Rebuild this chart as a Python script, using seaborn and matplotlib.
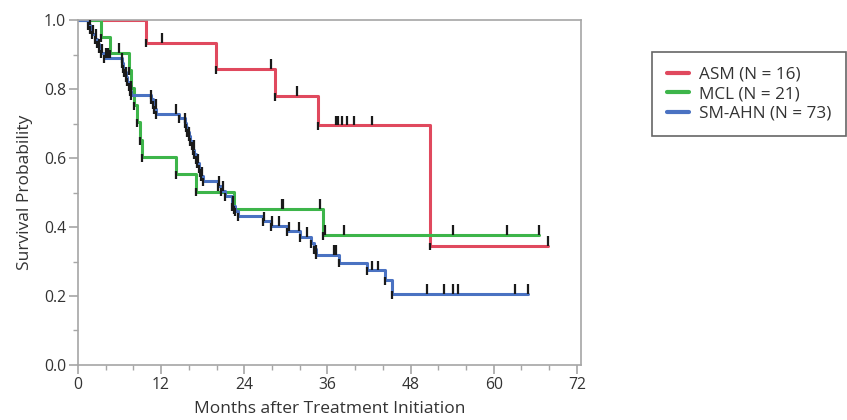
import numpy as np
import pandas as pd
import matplotlib
matplotlib.use('Agg')
import matplotlib.pyplot as plt
from matplotlib.ticker import MultipleLocator, FormatStrFormatter
import seaborn as sns

groups = ['ASM (N = 16)', 'MCL (N = 21)', 'SM-AHN (N = 73)']
colors = ['#E0495E', '#3DB54A', '#4A72C2']

# ASM: event times (months) and survival after each drop, censor times
asm_times = [9.8, 19.9, 28.4, 34.6, 50.8]
asm_surv = [0.935, 0.859, 0.781, 0.695, 0.346]
asm_cens = [12.2, 27.9, 31.6, 37.2, 37.5, 38.1, 38.8, 39.8, 42.5, 67.9]
asm_end = 67.9

# MCL
mcl_times = [3.3, 4.6, 7.4, 7.7, 8.1, 8.5, 8.9, 9.3, 14.2, 17.1, 22.5, 35.4]
mcl_surv = [0.952, 0.905, 0.855, 0.804, 0.754, 0.704, 0.653, 0.603, 0.553, 0.503, 0.452, 0.377]
mcl_cens = [5.9, 29.4, 29.6, 34.9, 35.7, 38.4, 54.1, 61.9, 66.6]
mcl_end = 66.6

# SM-AHN
ahn_times = [1.5, 1.8, 2.1, 2.4, 2.7, 3.0, 3.3, 3.7,
             6.3, 6.5, 6.7, 6.9, 7.1, 7.3, 7.5, 7.7,
             10.5, 10.8, 11.0, 11.3, 14.6,
             15.4, 15.6, 15.8, 16.0, 16.2, 16.4, 16.6, 16.8, 17.0, 17.2, 17.4, 17.6, 17.8, 18.1,
             20.2, 20.7, 21.2, 22.2, 22.7, 23.1,
             26.7, 27.9, 30.1, 32.0, 33.7, 34.0, 34.3, 37.7, 41.7, 44.3, 45.3]
ahn_surv = [0.986, 0.973, 0.959, 0.945, 0.932, 0.918, 0.904, 0.890,
            0.876, 0.862, 0.849, 0.835, 0.822, 0.808, 0.795, 0.783,
            0.770, 0.757, 0.743, 0.728, 0.715,
            0.702, 0.689, 0.676, 0.663, 0.650, 0.637, 0.624, 0.611, 0.598, 0.585, 0.572, 0.559, 0.547, 0.534,
            0.520, 0.505, 0.490, 0.461, 0.447, 0.432,
            0.417, 0.403, 0.388, 0.371, 0.354, 0.337, 0.320, 0.297, 0.274, 0.245, 0.206]
ahn_cens = [1.7, 2.2, 2.6, 3.1, 3.5, 4.0, 4.3, 6.4, 7.0, 7.6, 10.6, 11.2, 14.2,
            15.5, 16.1, 16.7, 17.3, 17.9, 20.4, 21.0, 22.4, 26.8, 28.0, 29.0,
            30.4, 31.9, 33.0, 34.4, 36.9, 37.1, 37.3, 42.5, 43.3,
            50.3, 52.8, 54.1, 54.9, 63.1, 65.0]
ahn_end = 65.0

series = [
    (groups[0], asm_times, asm_surv, asm_cens, asm_end),
    (groups[1], mcl_times, mcl_surv, mcl_cens, mcl_end),
    (groups[2], ahn_times, ahn_surv, ahn_cens, ahn_end),
]

rows = []
for name, t, s, c, end in series:
    tt = [0.0] + list(t) + [end]
    ss = [1.0] + list(s) + [s[-1]]
    rows.append(pd.DataFrame({'Months': tt, 'Survival': ss, 'Group': name}))
df = pd.concat(rows, ignore_index=True)

sns.set_style('ticks')
plt.rcParams['font.family'] = ['Open Sans', 'DejaVu Sans']

fig = plt.figure(figsize=(8.47, 4.2), dpi=100)
ax = fig.add_axes([0.092, 0.131, 0.594, 0.821])

sns.lineplot(data=df, x='Months', y='Survival', hue='Group', palette=colors,
             estimator=None, sort=False, drawstyle='steps-post', lw=2.2, ax=ax)

# drop marks and censor ticks
for name, t, s, c, end in series:
    t = np.array(t)
    s = np.array(s)
    ax.vlines(t, s - 0.014, s + 0.009, color='#1a1a1a', lw=1.6, zorder=5)
    lvl_t = np.concatenate([[0.0], t])
    lvl_s = np.concatenate([[1.0], s])
    idx = np.searchsorted(lvl_t, c, side='right') - 1
    cy = lvl_s[idx]
    ax.vlines(c, cy, cy + 0.028, color='#1a1a1a', lw=1.6, zorder=5)

ax.set_xlim(0, 72.6)
ax.set_ylim(0, 1.0)
ax.xaxis.set_major_locator(MultipleLocator(12))
ax.xaxis.set_minor_locator(MultipleLocator(4))
ax.yaxis.set_major_locator(MultipleLocator(0.2))
ax.yaxis.set_minor_locator(MultipleLocator(0.1))
ax.yaxis.set_major_formatter(FormatStrFormatter('%.1f'))

for sp in ax.spines.values():
    sp.set_color('#A6A6A6')
    sp.set_linewidth(1.2)
ax.tick_params(which='major', direction='out', length=6.5, width=1.2, color='#A6A6A6',
               labelsize=11.3, labelcolor='#333333', pad=2)
ax.tick_params(which='minor', direction='out', length=3.5, width=1.0, color='#A6A6A6')

ax.set_xlabel('Months after Treatment Initiation', fontsize=12.5, color='#333333', labelpad=6)
ax.set_ylabel('Survival Probability', fontsize=12.5, color='#333333', labelpad=8)

leg = ax.legend(loc='upper left', bbox_to_anchor=(1.141, 0.907), borderaxespad=0,
                frameon=True, fancybox=False, fontsize=12.3, handlelength=1.3,
                handletextpad=0.6, labelspacing=0.2, borderpad=0.85)
leg.get_frame().set_edgecolor('#404040')
leg.get_frame().set_linewidth(1.2)
for line in leg.get_lines():
    line.set_linewidth(3)
for txt in leg.get_texts():
    txt.set_color('#333333')

fig.savefig('out.png', dpi=100)
